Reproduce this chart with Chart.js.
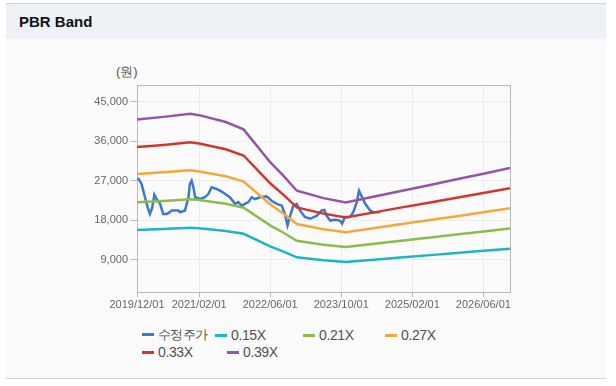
<!DOCTYPE html>
<html lang="ko">
<head>
	<meta charset="UTF-8">
	<title>PBR Band</title>
  <script src="https://cdn.jsdelivr.net/npm/chart.js"></script>
  <style>
    body { margin: 0; background: #fff; font-family: "Liberation Sans", Arial, sans-serif; }
    #panel { position: absolute; left: 6px; top: 3px; width: 600px; height: 374px; background: #fbfbfc;
             border-top: 1px solid #cfcfcf; border-bottom: 1px solid #d6d6d6; }
    #head { position: absolute; left: 0; top: 0; width: 600px; height: 35px; background: #eef1f6; }
    #head h1 { margin: 0; position: absolute; left: 13px; top: 9px; font: bold 15px "Liberation Sans Narrow", "Liberation Sans", sans-serif; color: #111; }
    #unit { position: absolute; left: 116px; top: 63px; font-size: 13px; color: #555; }
    #box { position: absolute; left: 80px; top: 75px; width: 440px; height: 240px; }
    .lg { position: absolute; font-size: 14px; color: #505050; white-space: nowrap; line-height: 16px; letter-spacing: -0.4px; }
    .lg span { display: inline-block; width: 12px; height: 3px; margin-right: 4px; vertical-align: middle; position: relative; top: -1px; }
    .lg.ko { font-size: 13px; letter-spacing: -0.6px; }
  </style>
</head>
<body>
  <div id="panel"><div id="head"><h1>PBR Band</h1></div></div>
  <div id="unit">(원)</div>
  <div id="box"><canvas id="pbrChart"></canvas></div>
  <div id="legend"></div>

<script>
  // x = months since 2019/12/01
  const tickMonths = [0, 14, 30, 46, 62, 78];
  const tickLabels = ["2019/12/01", "2021/02/01", "2022/06/01", "2023/10/01", "2025/02/01", "2026/06/01"];
  const yTicks = [9000, 18000, 27000, 36000, 45000];

  const bandMonths = [0, 6, 12, 14, 20, 24, 30, 33, 36, 42, 47, 54, 60, 66, 72, 78, 84];
  const band015 = [15750, 15980, 16250, 16130, 15530, 14880, 12000, 10800, 9500, 8850, 8460, 9030, 9530, 10010, 10500, 11000, 11490];
  const band021 = [22050, 22370, 22740, 22580, 21740, 20830, 16800, 15120, 13290, 12390, 11840, 12640, 13340, 14010, 14700, 15390, 16090];
  const band027 = [28500, 28900, 29350, 29100, 28000, 26800, 21600, 19440, 17090, 15930, 15230, 16250, 17150, 18010, 18900, 19790, 20680];
  const band033 = [34650, 35150, 35740, 35480, 34160, 32740, 26400, 23760, 20890, 19470, 18610, 19870, 20960, 22010, 23100, 24190, 25280];
  const band039 = [40950, 41540, 42240, 41930, 40370, 38690, 31200, 28080, 24690, 23010, 22000, 23480, 24770, 26010, 27300, 28590, 29870];

  const priceMonths = [0.2, 0.6, 1.05, 1.8, 2.4, 2.9, 3.45, 3.9, 4.4, 5.2, 5.9, 6.7, 7.4, 7.8, 9.3, 9.7, 10.8, 11.2, 11.6, 11.9,
    12.3, 12.7, 13.1, 14.2, 15.3, 16.1, 16.8, 17.9, 18.7, 19.8, 20.9, 22.1, 22.8, 23.6, 24.3, 25.1, 25.8, 26.6, 27.7, 29.2,
    30.3, 31.5, 32.6, 33.3, 33.9, 34.5, 35.2, 36.0, 36.7, 37.8, 39.0, 40.5, 41.6, 42.2, 42.7, 43.5, 44.6, 45.7, 46.2, 46.8,
    48.0, 48.7, 49.5, 50.0, 50.5, 51.4, 52.5, 53.2, 54.7];
  const priceValues = [27600, 27000, 26200, 23200, 20900, 19400, 20900, 23800, 22800, 21700, 19400, 19400, 19800, 20200, 20200, 19800, 20200, 21700, 23200, 26200,
    27000, 25500, 23200, 22800, 23200, 24000, 25500, 25100, 24700, 24000, 23200, 21700, 22100, 21300, 21700, 22100, 23200, 22800, 23200, 23400,
    22400, 21700, 21300, 19400, 16800, 19000, 21300, 21700, 20200, 18700, 18300, 19000, 20200, 20300, 19000, 17900, 18100, 17900, 17200, 18700,
    18700, 19800, 22100, 24700, 23600, 21700, 20200, 19800, 19800];

  const seriesNames = ["수정주가", "0.15X", "0.21X", "0.27X", "0.33X", "0.39X"];
  const seriesColors = ["#3b79cc", "#1eb4c6", "#8dbb4c", "#f4a73b", "#d3352d", "#9554a5"];
  const legendPos = [[142, 335], [215, 335], [303, 335], [385, 335], [142, 352], [227, 352]];

  function toPoints(xs, ys) {
    return xs.map((x, i) => ({ x: x, y: ys[i] }));
  }

  const lines = [
    toPoints(priceMonths, priceValues),
    toPoints(bandMonths, band015),
    toPoints(bandMonths, band021),
    toPoints(bandMonths, band027),
    toPoints(bandMonths, band033),
    toPoints(bandMonths, band039)
  ];

  // grey frame round the plot area
  const frame = {
    id: 'frame',
    beforeDatasetsDraw(chart) {
      const a = chart.chartArea, c = chart.ctx;
      c.save();
      c.strokeStyle = '#b8b8b8';
      c.lineWidth = 1;
      c.strokeRect(Math.round(a.left) + 0.5, Math.round(a.top) + 0.5, Math.round(a.right - a.left), Math.round(a.bottom - a.top));
      c.restore();
    }
  };

  const chart = new Chart(document.getElementById('pbrChart'), {
    type: 'line',
    data: {
      datasets: lines.map((pts, i) => ({
        label: seriesNames[i],
        data: pts,
        borderColor: seriesColors[i],
        backgroundColor: seriesColors[i],
        borderWidth: 2.5,
        pointRadius: 0,
        tension: 0
      })).reverse()
    },
    options: {
      responsive: true,
      maintainAspectRatio: false,
      animation: false,
      layout: { padding: { top: 8, right: 10, left: 0, bottom: 0 } },
      plugins: { legend: { display: false }, tooltip: { enabled: false } },
      scales: {
        x: {
          type: 'linear',
          min: 0,
          max: 84,
          afterBuildTicks: s => { s.ticks = tickMonths.map(v => ({ value: v })); },
          afterFit: s => { s.height = 23; },
          ticks: {
            autoSkip: false,
            maxRotation: 0,
            padding: 1,
            color: '#666',
            font: { size: 11, family: 'Liberation Sans' },
            callback: v => tickLabels[tickMonths.indexOf(v)]
          },
          grid: { color: '#ececec', tickLength: 5, tickColor: '#b8b8b8' },
          border: { display: false }
        },
        y: {
          min: 1600,
          max: 48900,
          afterBuildTicks: s => { s.ticks = yTicks.map(v => ({ value: v })); },
          afterFit: s => { s.width = 57; },
          ticks: {
            padding: 3,
            color: '#666',
            font: { size: 11, family: 'Liberation Sans' },
            callback: v => v.toLocaleString('en-US')
          },
          grid: { color: '#ececec', tickLength: 6, tickColor: '#b8b8b8' },
          border: { display: false }
        }
      }
    },
    plugins: [frame]
  });

  // html legend, built from the chart's own datasets
  const legend = document.getElementById('legend');
  chart.data.datasets.slice().reverse().forEach((ds, i) => {
    const el = document.createElement('div');
    el.className = i === 0 ? 'lg ko' : 'lg';
    el.style.left = legendPos[i][0] + 'px';
    el.style.top = (legendPos[i][1] - 8) + 'px';
    el.innerHTML = '<span style="background:' + ds.borderColor + '"></span>' + ds.label;
    legend.appendChild(el);
  });
</script>
</body>
</html>
